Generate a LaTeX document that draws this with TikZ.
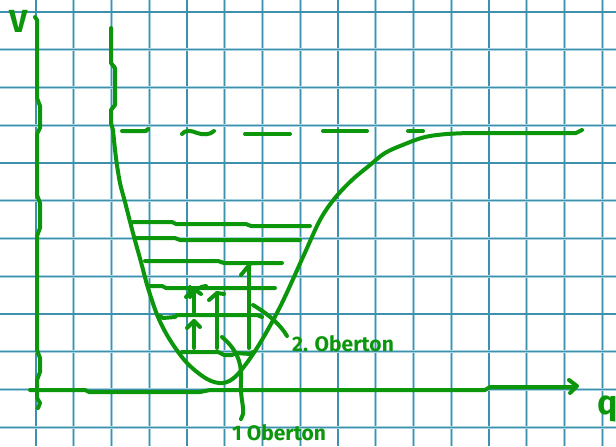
\documentclass[tikz,border=0pt]{standalone}
\usepackage{fontspec}
\setmainfont{Fira Sans}
\definecolor{pen}{RGB}{12,150,12}
\definecolor{gridd}{RGB}{62,145,172}
\definecolor{gridl}{RGB}{168,210,224}
\begin{document}
\begin{tikzpicture}[x=0.5pt,y=-0.5pt,
  ink/.style={draw=pen,line width=2pt,line cap=round,line join=round},
  gl/.style={draw=gridl,line width=1.3pt},
  gd/.style={draw=gridd,line width=0.55pt},
  lbl/.style={text=pen,font=\bfseries\fontsize{10.5}{12}\selectfont,inner sep=0pt}]
\useasboundingbox (0,0) rectangle (616,446);
\fill[white] (0,0) rectangle (616,446);
% grid paper
\foreach \k in {0,...,15} {
  \draw[gl] ({36+37.75*\k},0) -- ++(0,446);
  \draw[gd] ({36+37.75*\k},0) -- ++(0,446);
}
\foreach \k in {0,...,11} {
  \draw[gl] (0,{12+37.75*\k}) -- ++(616,0);
  \draw[gd] (0,{12+37.75*\k}) -- ++(616,0);
}
% labels
\node[lbl,font=\bfseries\fontsize{16}{18}\selectfont] (V) at (19,21) {V};
\node[lbl,font=\bfseries\fontsize{17}{19}\selectfont] (q) at (608,409) {q};
\node[lbl] (o2) at (343,344) {2. Oberton};
\node[lbl] (o1) at (279,433) {1 Oberton};
% V axis
\draw[ink] (35,17) -- (37,20) -- (37,98) -- (40,106) -- (40,128) -- (37,134) -- (37,195)
  -- (40,203) -- (40,228) -- (37,236) -- (37,350) -- (40,358) -- (40,372) -- (37,380)
  -- (37,398) -- (40,403) -- (38,408);
% q axis with arrow
\draw[ink] (30,390) -- (85,390) -- (89,392) -- (200,392) -- (210,390) -- (485,390)
  -- (490,387) -- (575,387);
\draw[ink] (569,380) -- (577,386) -- (570,393);
% Morse potential
\draw[ink] (111,28) -- (111,63) -- (115,68) -- (115,105) -- (111,110) -- (111,123)
  -- (113,130) plot[smooth,tension=0.55] coordinates {(113,130) (116,158) (120,183) (125,202)
  (133,233) (141,262) (148,288) (158,317) (170,340) (187,363) (207,379) (223,383)
  (237,375) (257,348) (280,307) (303,257) (320,220) (335,198) (352,180) (370,165)
  (385,153) (405,144) (425,137) (447,134) (470,133)} -- (576,133) -- (582,130);
% dissociation energy (dashed by hand)
\draw[ink] (122,131) -- (146,131) -- (148,129);
\draw[ink] (182,134) .. controls (185,130) and (190,130) .. (197,133)
  .. controls (203,135) and (210,135) .. (214,131);
\draw[ink] (245,134) -- (290,134);
\draw[ink] (323,131) -- (367,131);
\draw[ink] (408,131) -- (423,131);
% vibrational levels
\draw[ink] (133,222) -- (172,222) -- (176,224) -- (246,224) -- (251,226) -- (310,226);
\draw[ink] (136,238) -- (175,238) -- (180,240) -- (300,240);
\draw[ink] (145,261) -- (218,261) -- (224,263) -- (282,263);
\draw[ink] (148,286) -- (162,286) -- (166,288) -- (275,288);
\draw[ink] (160,316) -- (163,318) -- (175,317) -- (177,315) -- (257,315) -- (262,317);
\draw[ink] (182,352) -- (218,352) -- (224,355) -- (232,355) -- (236,353) -- (250,354) -- (253,352);
% transitions
\draw[ink] (194,348) -- (194,321);
\draw[ink] (187,328) -- (194,321) -- (200,327);
\draw[ink] (194,312) -- (194,290);
\draw[ink] (186,297) -- (194,289) -- (201,294);
\draw[ink] (190,287) -- (190,297);
\draw[ink] (201,287) -- (206,286);
\draw[ink] (217,348) -- (217,293);
\draw[ink] (209,300) -- (217,293) -- (224,294);
\draw[ink] (249,348) -- (249,265);
\draw[ink] (241,275) -- (251,263) -- (257,263);
% pointers to labels
\coordinate (p2s) at (253,305);
\coordinate (p2e) at (287,336);
\draw[ink] (p2s) .. controls (268,314) and (280,324) .. (p2e);
\coordinate (p1s) at (222,337);
\coordinate (p1e) at (241,419);
\draw[ink] (p1s) .. controls (235,348) and (242,360) .. (241,380)
  .. controls (240,398) and (244,405) .. (243,414) -- (p1e);
\end{tikzpicture}
\end{document}
